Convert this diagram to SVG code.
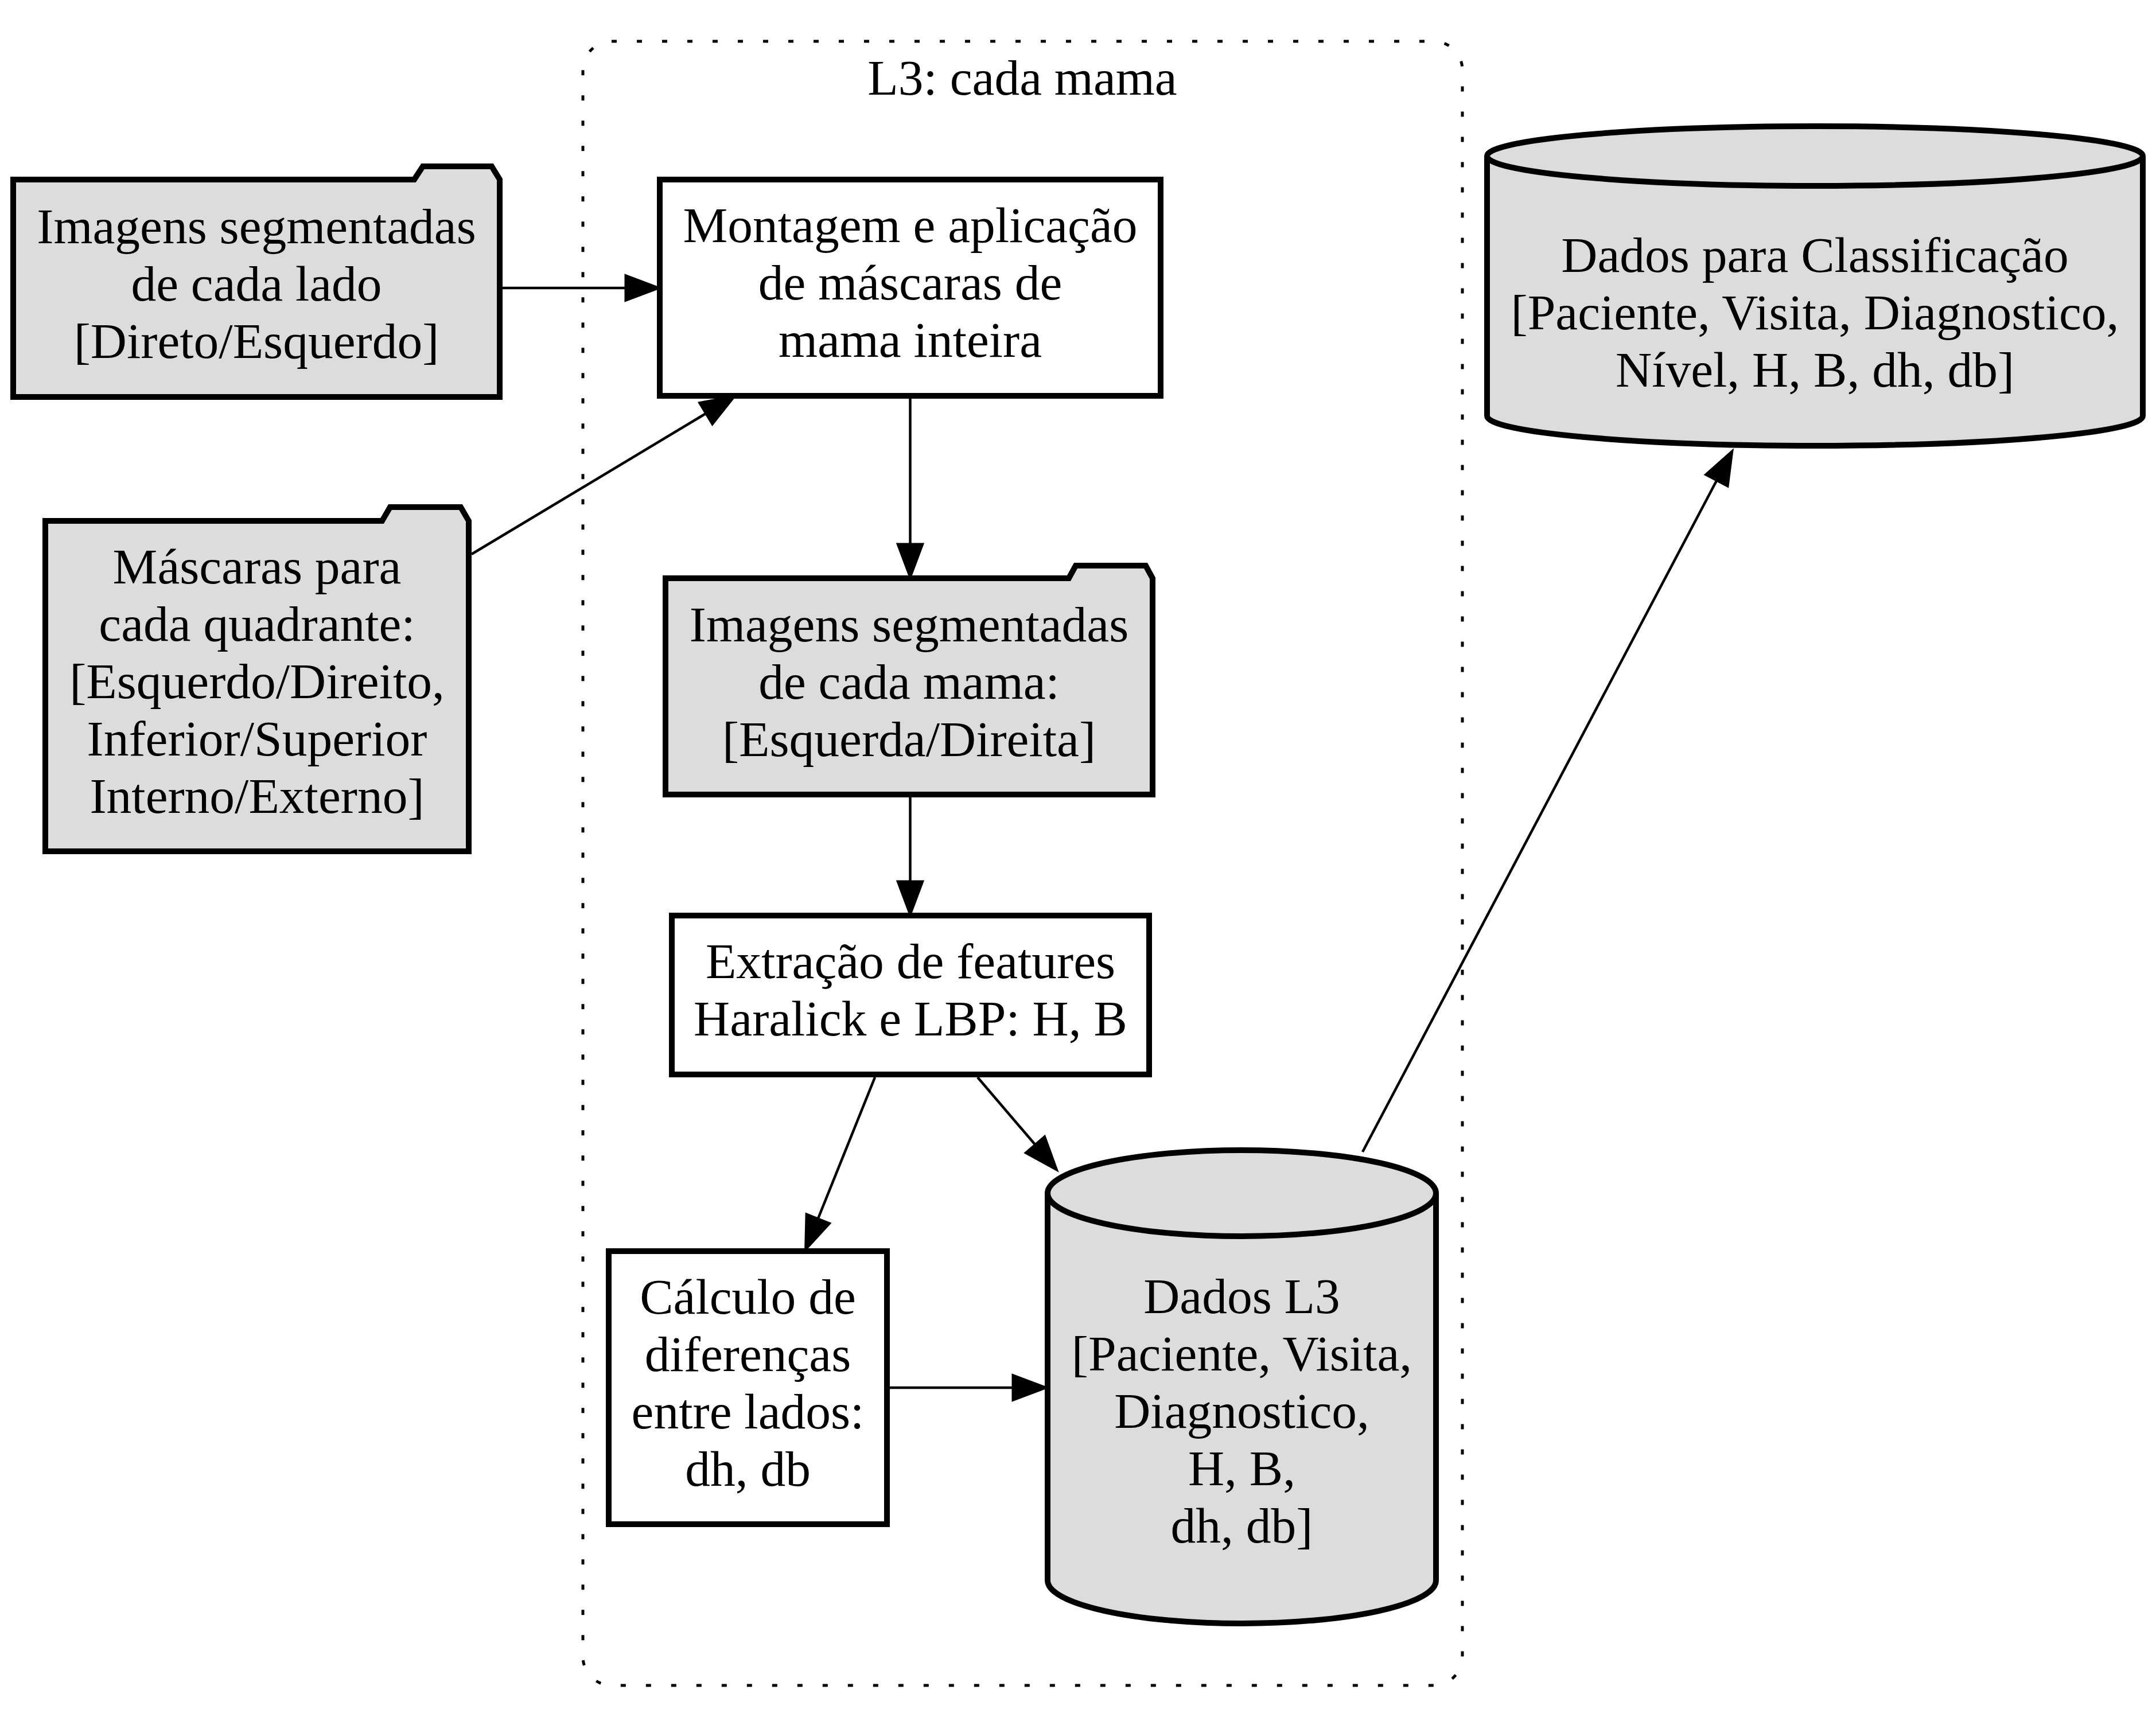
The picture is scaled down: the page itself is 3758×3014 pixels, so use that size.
<svg xmlns="http://www.w3.org/2000/svg" width="3758" height="3014" viewBox="0 0 3758 3014">
<style>
.bg{fill:#ffffff}
.node{stroke:#000;stroke-width:10;stroke-linejoin:miter}
.fillg{fill:#dcdcdc}
.fillw{fill:#ffffff}
.edge{fill:none;stroke:#000;stroke-width:4.5}
.cluster{fill:none;stroke:#000;stroke-width:5;stroke-dasharray:9,35}
text{font-family:"Liberation Serif","Times New Roman",serif;font-size:87.5px;fill:#000;text-anchor:middle}
</style>
<defs>
<marker id="ah" markerUnits="userSpaceOnUse" markerWidth="66" markerHeight="52" viewBox="-2 -26 66 52" refX="0" refY="0" orient="auto" overflow="visible">
<path d="M0,-22.5 L60,0 L0,22.5 Z" fill="#000" stroke="#000" stroke-width="3"/>
</marker>
</defs>
<rect class="bg" x="0" y="0" width="3758" height="3014"/>

<g id="cluster_L3">
<rect class="cluster" x="1016" y="72" width="1533" height="2866" rx="50" ry="50"/>
<text x="1782" y="165">L3: cada mama</text>
</g>

<g id="edges">
<line class="edge" x1="871" y1="502" x2="1090" y2="502" marker-end="url(#ah)"/>
<line class="edge" x1="822" y1="966" x2="1230" y2="721" marker-end="url(#ah)"/>
<line class="edge" x1="1586.5" y1="690" x2="1586.5" y2="948" marker-end="url(#ah)"/>
<line class="edge" x1="1586.5" y1="1385" x2="1586.5" y2="1536" marker-end="url(#ah)"/>
<line class="edge" x1="1525" y1="1878" x2="1426" y2="2124" marker-end="url(#ah)"/>
<line class="edge" x1="1704" y1="1878" x2="1804" y2="1995" marker-end="url(#ah)"/>
<line class="edge" x1="1546" y1="2419" x2="1765" y2="2419" marker-end="url(#ah)"/>
<line class="edge" x1="2375" y1="2008" x2="2992" y2="838" marker-end="url(#ah)"/>
</g>

<g id="node_imagens_lado">
<path class="node fillg" d="M23,313 L722,313 L737,290 L857,290 L871,313 L871,692 L23,692 Z"/>
<text x="447" y="423.5">Imagens segmentadas</text>
<text x="447" y="523.5">de cada lado</text>
<text x="447" y="623.5">[Direto/Esquerdo]</text>
</g>

<g id="node_mascaras">
<path class="node fillg" d="M79,908 L666,908 L680,884 L803,884 L817,908 L817,1484 L79,1484 Z"/>
<text x="448" y="1017">Máscaras para</text>
<text x="448" y="1117">cada quadrante:</text>
<text x="448" y="1217">[Esquerdo/Direito,</text>
<text x="448" y="1317">Inferior/Superior</text>
<text x="448" y="1417">Interno/Externo]</text>
</g>

<g id="node_montagem">
<rect class="node fillw" x="1150" y="313" width="873" height="377"/>
<text x="1586.5" y="422">Montagem e aplicação</text>
<text x="1586.5" y="522">de máscaras de</text>
<text x="1586.5" y="622">mama inteira</text>
</g>

<g id="node_imagens_mama">
<path class="node fillg" d="M1160,1008 L1863,1008 L1875,986 L1997,986 L2009,1008 L2009,1385 L1160,1385 Z"/>
<text x="1584.5" y="1117.5">Imagens segmentadas</text>
<text x="1584.5" y="1217.5">de cada mama:</text>
<text x="1584.5" y="1317.5">[Esquerda/Direita]</text>
</g>

<g id="node_extracao">
<rect class="node fillw" x="1171" y="1596" width="832" height="277"/>
<text x="1587" y="1705">Extração de features</text>
<text x="1587" y="1805">Haralick e LBP: H, B</text>
</g>

<g id="node_calculo">
<rect class="node fillw" x="1061" y="2181" width="485" height="476"/>
<text x="1303.5" y="2290">Cálculo de</text>
<text x="1303.5" y="2390">diferenças</text>
<text x="1303.5" y="2490">entre lados:</text>
<text x="1303.5" y="2590">dh, db</text>
</g>

<g id="node_dados_l3">
<path class="node fillg" d="M1826,2080 A338.5,75 0 0,1 2503,2080 L2503,2755 A338.5,75 0 0,1 1826,2755 Z"/>
<path class="node" fill="none" d="M2503,2080 A338.5,75 0 0,1 1826,2080"/>
<text x="2164.5" y="2289">Dados L3</text>
<text x="2164.5" y="2389">[Paciente, Visita,</text>
<text x="2164.5" y="2489">Diagnostico,</text>
<text x="2164.5" y="2589">H, B,</text>
<text x="2164.5" y="2689">dh, db]</text>
</g>

<g id="node_dados_classificacao">
<path class="node fillg" d="M2592,272 A571.5,52 0 0,1 3735,272 L3735,725 A571.5,52 0 0,1 2592,725 Z"/>
<path class="node" fill="none" d="M3735,272 A571.5,52 0 0,1 2592,272"/>
<text x="3163.5" y="474">Dados para Classificação</text>
<text x="3163.5" y="574">[Paciente, Visita, Diagnostico,</text>
<text x="3163.5" y="674">Nível, H, B, dh, db]</text>
</g>
</svg>
